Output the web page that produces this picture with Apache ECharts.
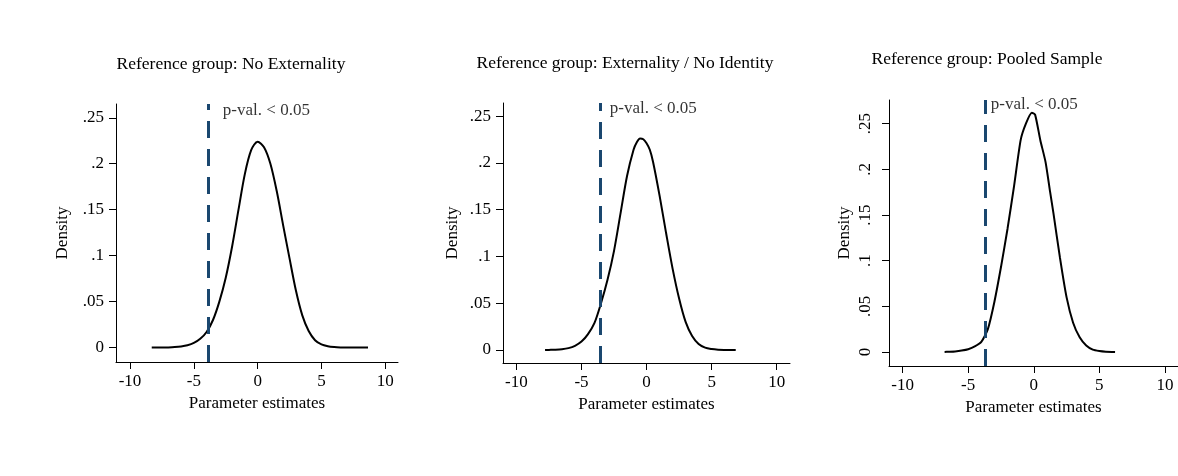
<!DOCTYPE html>
<html>
<head>
<meta charset="utf-8">
<script src="https://cdn.jsdelivr.net/npm/echarts@6/dist/echarts.min.js"></script>
<style>
html,body{margin:0;padding:0;background:#fff;}
#chart{width:1178px;height:476px;}
</style>
</head>
<body>
<div id="chart"></div>
<script>
// ---- Data ----
const panelTitles = [
  "Reference group: No Externality",
  "Reference group: Externality / No Identity",
  "Reference group: Pooled Sample"
];
const xTicks = [-10, -5, 0, 5, 10];
const xTickLabels = ["-10", "-5", "0", "5", "10"];
const yTicks = [0, 0.05, 0.1, 0.15, 0.2, 0.25];
const yTickLabels = ["0", ".05", ".1", ".15", ".2", ".25"];
const xTitle = "Parameter estimates";
const yTitle = "Density";
const annotationText = "p-val. < 0.05";

// Panel 1: No Externality
const x1 = [-8.3, -7.5, -7, -6.5, -6, -5.5, -5, -4.5, -4, -3.5, -3, -2.5, -2, -1.5, -1, -0.5, 0, 0.5, 1, 1.5, 2, 2.5, 3, 3.5, 4, 4.5, 5, 5.5, 6, 6.5, 7, 8, 8.65];
const y1 = [0, 0.0001, 0.0002, 0.0005, 0.0012, 0.0025, 0.005, 0.0095, 0.017, 0.03, 0.05, 0.076, 0.11, 0.15, 0.189, 0.215, 0.224, 0.218, 0.2, 0.17, 0.133, 0.097, 0.062, 0.035, 0.018, 0.008, 0.0035, 0.0015, 0.0006, 0.0002, 0.0001, 0, 0];
const crit1 = -3.9;

// Panel 2: Externality / No Identity
const x2 = [-7.8, -7.5, -7, -6.5, -6, -5.5, -5, -4.5, -4, -3.5, -3, -2.5, -2, -1.5, -1, -0.75, -0.5, -0.25, 0, 0.25, 0.5, 1, 1.5, 2, 2.5, 3, 3.5, 4, 4.5, 5, 5.5, 6, 6.85];
const y2 = [0, 0.0001, 0.0003, 0.0008, 0.002, 0.0045, 0.009, 0.017, 0.029, 0.05, 0.075, 0.106, 0.146, 0.186, 0.214, 0.222, 0.226, 0.2252, 0.221, 0.214, 0.201, 0.165, 0.125, 0.087, 0.055, 0.03, 0.015, 0.0065, 0.0025, 0.001, 0.0003, 0.0001, 0];
const crit2 = -3.59;

// Panel 3: Pooled Sample
const x3 = [-6.8, -6.5, -6, -5.5, -5, -4.5, -4, -3.5, -3, -2.5, -2, -1.5, -1, -0.6, -0.15, 0.1, 0.5, 0.9, 1.25, 1.5, 2, 2.5, 3, 3.5, 4, 4.5, 5, 5.5, 6.2];
const y3 = [0, 0.0002, 0.0006, 0.0015, 0.003, 0.006, 0.011, 0.025, 0.055, 0.093, 0.135, 0.182, 0.232, 0.25, 0.262, 0.26, 0.232, 0.208, 0.175, 0.152, 0.103, 0.06, 0.032, 0.016, 0.007, 0.0025, 0.001, 0.0003, 0];
const crit3 = -3.73;

// annotation anchors (data coordinates)
const annotY = [0.258, 0.258, 0.271];

// ---- Chart ----
const FONT = "'Liberation Serif','Times New Roman',serif";
const panels = [
  {x: x1, y: y1, crit: crit1, grid: {left: 116, top: 104, width: 282, height: 258}, xr: [-11.1, 11], yr: [-0.0157, 0.265], rotY: false, nameGap: 45, annDist: 15, titleX: 231, titleY: 63},
  {x: x2, y: y2, crit: crit2, grid: {left: 503, top: 103, width: 287, height: 260}, xr: [-11.03, 11.02], yr: [-0.0139, 0.264], rotY: false, nameGap: 42, annDist: 10, titleX: 625, titleY: 62},
  {x: x3, y: y3, crit: crit3, grid: {left: 889, top: 100, width: 291, height: 266}, xr: [-11.04, 11.0], yr: [-0.0154, 0.276], rotY: true, nameGap: 36, annDist: 6, titleX: 987, titleY: 58}
];

function labelFor(values, labels) {
  return function (v) {
    let best = 0;
    for (let i = 1; i < values.length; i++) {
      if (Math.abs(values[i] - v) < Math.abs(values[best] - v)) best = i;
    }
    return labels[best];
  };
}

const axisLineStyle = {color: '#000', width: 1};
const textStyle = {fontFamily: FONT, fontSize: 17, color: '#000'};

const option = {
  backgroundColor: '#fff',
  animation: false,
  title: panels.map((p, i) => ({
    text: panelTitles[i],
    left: p.titleX,
    top: p.titleY - 8,
    textAlign: 'center',
    padding: 0,
    textStyle: {fontFamily: FONT, fontSize: 17.5, fontWeight: 'normal', color: '#000'}
  })),
  grid: panels.map(p => Object.assign({containLabel: false}, p.grid)),
  xAxis: panels.map((p, i) => ({
    gridIndex: i,
    type: 'value',
    min: p.xr[0],
    max: p.xr[1],
    axisLine: {show: true, onZero: false, lineStyle: axisLineStyle},
    axisTick: {show: true, length: 7, customValues: xTicks, lineStyle: axisLineStyle},
    axisLabel: Object.assign({customValues: xTicks, margin: 11, formatter: labelFor(xTicks, xTickLabels)}, textStyle),
    splitLine: {show: false},
    name: xTitle,
    nameLocation: 'middle',
    nameGap: 30,
    nameTextStyle: textStyle
  })),
  yAxis: panels.map((p, i) => ({
    gridIndex: i,
    type: 'value',
    min: p.yr[0],
    max: p.yr[1],
    axisLine: {show: true, onZero: false, lineStyle: axisLineStyle},
    axisTick: {show: true, length: 7, customValues: yTicks, lineStyle: axisLineStyle},
    axisLabel: Object.assign({customValues: yTicks, margin: p.rotY ? 15 : 12, rotate: p.rotY ? 90 : 0, formatter: labelFor(yTicks, yTickLabels)}, textStyle),
    splitLine: {show: false},
    name: yTitle,
    nameLocation: 'middle',
    nameGap: p.nameGap,
    nameTextStyle: textStyle
  })),
  series: panels.flatMap((p, i) => [
    {
      type: 'line',
      xAxisIndex: i,
      yAxisIndex: i,
      data: p.x.map((xv, k) => [xv, p.y[k]]),
      showSymbol: false,
      smooth: i === 2 ? 0.2 : 0.3,
      lineStyle: {color: '#000', width: 2},
      silent: true,
      z: 2,
      markLine: {
        silent: true,
        symbol: 'none',
        label: {show: false},
        lineStyle: {color: '#1a476f', width: 3, type: [17, 11]},
        data: [{xAxis: p.crit}],
        z: 3
      }
    },
    {
      type: 'scatter',
      xAxisIndex: i,
      yAxisIndex: i,
      data: [[p.crit, annotY[i]]],
      symbolSize: 0,
      silent: true,
      label: Object.assign({show: true, position: 'right', distance: p.annDist, formatter: annotationText}, textStyle)
    }
  ])
};

const chart = echarts.init(document.getElementById('chart'), null, {renderer: 'canvas'});
chart.setOption(option);
</script>
</body>
</html>
